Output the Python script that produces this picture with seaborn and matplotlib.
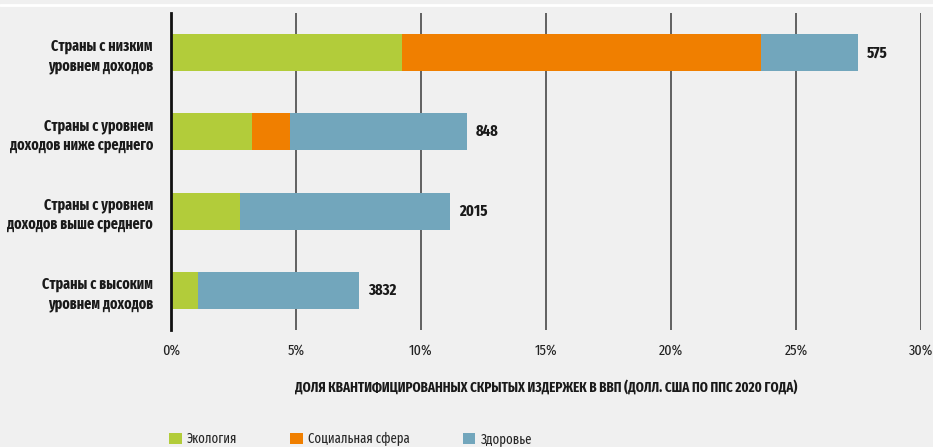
import matplotlib
matplotlib.use("Agg")
import matplotlib.pyplot as plt
import seaborn as sns
import pandas as pd
from matplotlib.patches import Patch

categories = ["Страны с низким\nуровнем доходов",
              "Страны с уровнем\nдоходов ниже среднего",
              "Страны с уровнем\nдоходов выше среднего",
              "Страны с высоким\nуровнем доходов"]
ecology = [9.24, 3.24, 2.76, 1.08]
social = [14.36, 1.52, 0.0, 0.0]
health = [3.88, 7.08, 8.40, 6.44]
totals_labels = ["575", "848", "2015", "3832"]
series_names = ["Экология", "Социальная сфера", "Здоровье"]
xticks = [0, 5, 10, 15, 20, 25, 30]
xlabel = "ДОЛЯ КВАНТИФИЦИРОВАННЫХ СКРЫТЫХ ИЗДЕРЖЕК В ВВП (ДОЛЛ. США ПО ППС 2020 ГОДА)"

colors = {"Экология": "#b2cc3a", "Социальная сфера": "#f07f00", "Здоровье": "#72a6bc"}
bg = "#f0f0f0"
txtc = "#1a1a1a"

sns.set_theme(style="white")
plt.rcParams['font.family'] = ['Fira Sans Extra Condensed', 'DejaVu Sans']

df = pd.DataFrame({"cat": categories, "eco": ecology, "soc": social, "hea": health})
df["c1"] = df["eco"]
df["c2"] = df["eco"] + df["soc"]
df["c3"] = df["c2"] + df["hea"]

fig = plt.figure(figsize=(9.33, 4.47), dpi=100, facecolor=bg)
ax = fig.add_axes([171/933, 1-330/447, 750/933, 317/447])
ax.set_facecolor(bg)

w = 0.47
sns.barplot(data=df, x="c3", y="cat", orient="h", color=colors["Здоровье"], width=w, ax=ax, saturation=1)
sns.barplot(data=df, x="c2", y="cat", orient="h", color=colors["Социальная сфера"], width=w, ax=ax, saturation=1)
sns.barplot(data=df, x="c1", y="cat", orient="h", color=colors["Экология"], width=w, ax=ax, saturation=1)
for p in ax.patches:
    p.set_linewidth(0)

for i, (t, lab) in enumerate(zip(df["c3"], totals_labels)):
    ax.text(t + 0.36, i, lab, va="center", ha="left", fontsize=11.5, fontweight="bold", color=txtc)

ax.set_xlim(0, 30)
ax.set_ylim(3.5, -0.5)
ax.set_xticks(xticks)
ax.set_xticklabels([f"{v}%" for v in xticks], fontsize=11, color="#222222")
ax.tick_params(axis="x", length=0, pad=10)
ax.tick_params(axis="y", length=0, pad=13)
for lbl in ax.get_yticklabels():
    lbl.set_fontweight("bold")
    lbl.set_fontsize(11)
    lbl.set_color(txtc)
    lbl.set_linespacing(1.25)
ax.set_ylabel("")
ax.set_xlabel(xlabel, fontsize=10.2, fontweight="bold", color=txtc)
ax.xaxis.set_label_coords(0.5, (330-387)/317)
ax.xaxis.label.set_va("center")

for v in xticks[1:]:
    ax.axvline(v, color="#555555", lw=1.3, zorder=0)
for s in ["top", "right", "bottom"]:
    ax.spines[s].set_visible(False)
ax.spines["left"].set_color("#111111")
ax.spines["left"].set_linewidth(2)

fig.add_artist(plt.Line2D([0, 1], [1-5.2/447, 1-5.2/447], color="white", lw=2))

handles = [Patch(facecolor=colors[n], edgecolor="none") for n in series_names]
fig.legend(handles, series_names, loc="upper left", bbox_to_anchor=(169/933, 1-432/447),
           ncol=3, frameon=False, fontsize=10, handlelength=0.93, handleheight=0.93,
           handletextpad=0.36, columnspacing=3.8, borderpad=0, borderaxespad=0)

fig.savefig("out.png", dpi=100, facecolor=bg)
